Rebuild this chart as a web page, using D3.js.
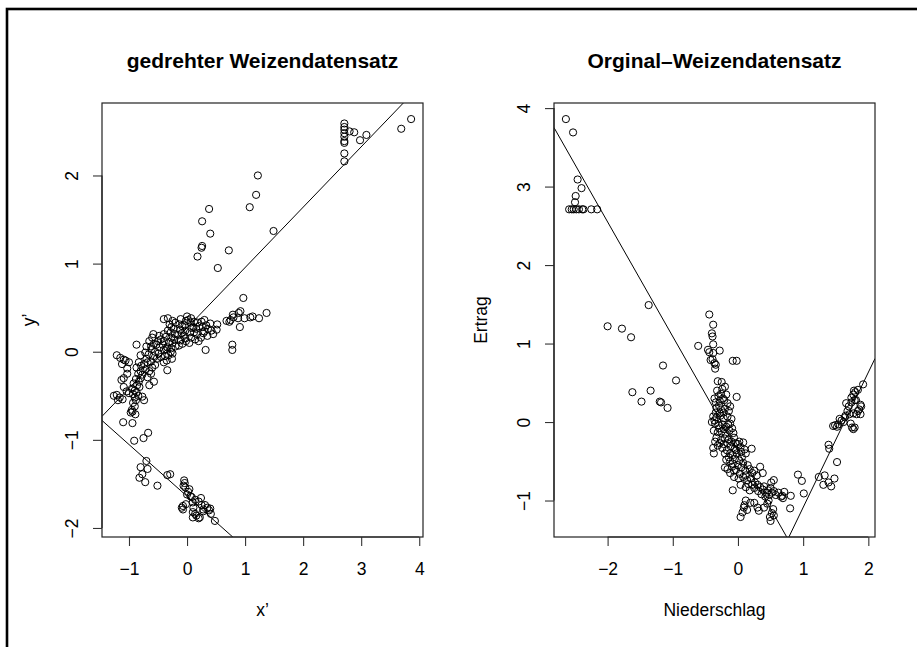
<!DOCTYPE html>
<html>
<head>
<meta charset="utf-8">
<script src="https://cdn.jsdelivr.net/npm/d3@7"></script>
<style>
  body { margin: 0; background: #fff; }
  svg { display: block; }
  text { font-family: "Liberation Sans", Arial, Helvetica, sans-serif; fill: #000; }
</style>
</head>
<body>
<svg id="chart" width="917" height="647"></svg>
<script>
// Wheat data set: precipitation (Niederschlag) vs. yield (Ertrag), standardised
const original = [
  [-2.64,3.86],[-2.53,3.69],[-2.46,3.09],[-2.40,2.98],[-2.49,2.88],[-2.50,2.80],[-2.59,2.71],[-2.55,2.71],
  [-2.52,2.71],[-2.48,2.71],[-2.44,2.71],[-2.39,2.71],[-2.37,2.71],[-2.25,2.71],[-2.16,2.71],
  [-2.00,1.22],[-1.78,1.19],[-1.64,1.08],[-1.37,1.49],[-1.15,0.72],[-0.95,0.53],[-1.62,0.38],[-1.34,0.40],
  [-1.48,0.26],[-1.20,0.26],[-1.18,0.25],[-1.08,0.18],[-0.61,0.97],
  [-0.44,1.37],[-0.38,1.24],[-0.40,1.13],[-0.39,1.09],[-0.38,0.99],[-0.46,0.92],[-0.28,0.91],[-0.38,0.88],
  [-0.44,0.89],[-0.39,0.80],[-0.42,0.79],[-0.36,0.75],[-0.34,0.73],[-0.35,0.68],[-0.08,0.78],[-0.02,0.78],
  [-0.31,0.52],[-0.25,0.51],[-0.20,0.45],[-0.02,0.32],[-0.34,0.25],[-0.28,0.27],[-0.21,0.28],[-0.16,0.24],
  [-0.30,0.33],[-0.26,0.36],[-0.23,0.30],[-0.33,0.18],[-0.26,0.16],[-0.20,0.17],[-0.12,0.20],[-0.29,0.21],
  [-0.38,0.07],[-0.33,0.06],[-0.27,0.08],[-0.22,0.05],[-0.16,0.07],[-0.10,0.04],[-0.40,0.00],[-0.35,-0.02],
  [-0.30,-0.04],[-0.24,-0.03],[-0.18,-0.06],[-0.12,-0.02],[-0.37,-0.11],[-0.31,-0.13],[-0.25,-0.12],[-0.19,-0.15],
  [-0.13,-0.11],[-0.07,-0.14],[-0.34,0.12],[-0.28,0.11],[-0.22,0.12],
  [-0.33,-0.20],[-0.26,-0.23],[-0.20,-0.21],[-0.14,-0.22],[-0.06,-0.20],[-0.38,-0.33],[-0.37,-0.40],[-0.31,-0.30],
  [-0.24,-0.33],[-0.17,-0.36],[-0.11,-0.31],[-0.05,-0.34],[0.00,-0.28],[0.04,-0.32],[0.10,-0.35],[0.21,-0.34],
  [-0.08,-0.42],[-0.02,-0.40],[0.06,-0.45],[0.02,-0.25],[0.08,-0.26],[-0.12,-0.40],
  [-0.18,-0.48],[-0.12,-0.50],[-0.05,-0.47],[0.02,-0.49],[-0.20,-0.58],[-0.16,-0.60],[-0.09,-0.57],[-0.03,-0.61],
  [0.05,-0.58],[0.11,-0.62],[0.18,-0.60],[0.34,-0.57],[0.38,-0.65],[0.15,-0.55],[-0.12,-0.65],[0.22,-0.65],
  [-0.06,-0.70],[0.01,-0.72],[0.08,-0.70],[0.14,-0.74],[0.20,-0.72],[0.26,-0.77],[0.04,-0.80],[0.12,-0.83],
  [0.18,-0.87],[0.25,-0.84],[0.31,-0.88],[0.38,-0.86],[0.44,-0.90],[0.50,-0.84],[0.55,-0.88],[0.42,-0.95],
  [0.48,-0.93],[0.62,-0.90],[0.66,-0.95],[-0.08,-0.87],[0.30,-0.80],[0.36,-0.92],[0.55,-0.74],[0.51,-0.77],
  [0.04,-1.21],[0.07,-1.15],[0.09,-1.09],[0.12,-1.00],[0.19,-1.03],[0.25,-1.03],[0.30,-1.09],[0.32,-1.13],
  [0.40,-1.09],[0.45,-1.04],[0.47,-1.00],[0.54,-1.11],[0.52,-1.16],[0.55,-1.19],[0.49,-1.21],[0.50,-1.26],
  [0.80,-1.10],[0.81,-0.94],[0.68,-0.94],[0.71,-0.89],[0.69,-0.97],[0.92,-0.67],[0.98,-0.75],[1.01,-0.91],
  [1.24,-0.70],[1.33,-0.68],[1.31,-0.80],[1.39,-0.77],[1.43,-0.82],[1.48,-0.72],[1.52,-0.51],[1.39,-0.29],
  [1.40,-0.34],[1.46,-0.05],[1.49,-0.04],[1.52,-0.06],[1.54,-0.03],[1.56,0.04],[1.59,0.02],[1.64,0.06],
  [1.66,0.24],[1.68,0.14],[1.71,0.10],[1.75,-0.07],[1.77,-0.09],[1.79,-0.07],[1.73,-0.02],[1.77,0.11],
  [1.82,0.10],[1.88,0.10],[1.89,0.20],[1.86,0.16],[1.74,0.31],[1.77,0.35],[1.80,0.38],[1.84,0.41],
  [1.74,0.25],[1.79,0.28],[1.92,0.48],[1.78,0.40],[1.65,0.08],[1.88,0.22],
  [-0.36,0.30],[-0.32,0.40],[-0.24,0.42],[-0.18,0.35],[-0.14,0.14],[-0.36,0.02],[-0.29,-0.08],[-0.21,-0.09],
  [-0.15,-0.03],[-0.09,-0.08],[-0.35,-0.25],[-0.28,-0.27],[-0.22,-0.28],[-0.16,-0.27],[-0.10,-0.25],[-0.04,-0.27],
  [-0.20,-0.40],[-0.14,-0.45],[-0.03,-0.36],[0.05,-0.38],[0.12,-0.40],[-0.08,-0.53],[0.00,-0.55],[0.08,-0.52],
  [-0.06,-0.62],[0.03,-0.66],[0.12,-0.68],[0.25,-0.62],[0.29,-0.68],[0.16,-0.79],[0.22,-0.80],[0.34,-0.83],
  [0.40,-0.82],[0.46,-0.87],[0.52,-0.90],[0.58,-0.93],[0.10,-1.06],[0.14,-1.12],[1.70,0.20],[1.62,0.00],
  [1.84,0.14],[1.81,0.28]
];

// The same observations turned by 90 degrees: x' = Ertrag, y' = -Niederschlag
const rotated = [
  [3.86,2.64],[3.69,2.53],[3.09,2.46],[2.98,2.40],[2.88,2.49],[2.80,2.50],[2.71,2.59],[2.71,2.55],
  [2.71,2.52],[2.71,2.48],[2.71,2.44],[2.71,2.39],[2.71,2.37],[2.71,2.25],[2.71,2.16],
  [1.22,2.00],[1.19,1.78],[1.08,1.64],[1.49,1.37],[0.72,1.15],[0.53,0.95],[0.38,1.62],[0.40,1.34],
  [0.26,1.48],[0.26,1.20],[0.25,1.18],[0.18,1.08],[0.97,0.61],
  [1.37,0.44],[1.24,0.38],[1.13,0.40],[1.09,0.39],[0.99,0.38],[0.92,0.46],[0.91,0.28],[0.88,0.38],
  [0.89,0.44],[0.80,0.39],[0.79,0.42],[0.75,0.36],[0.73,0.34],[0.68,0.35],[0.78,0.08],[0.78,0.02],
  [0.52,0.31],[0.51,0.25],[0.45,0.20],[0.32,0.02],[0.25,0.34],[0.27,0.28],[0.28,0.21],[0.24,0.16],
  [0.33,0.30],[0.36,0.26],[0.30,0.23],[0.18,0.33],[0.16,0.26],[0.17,0.20],[0.20,0.12],[0.21,0.29],
  [0.07,0.38],[0.06,0.33],[0.08,0.27],[0.05,0.22],[0.07,0.16],[0.04,0.10],[0.00,0.40],[-0.02,0.35],
  [-0.04,0.30],[-0.03,0.24],[-0.06,0.18],[-0.02,0.12],[-0.11,0.37],[-0.13,0.31],[-0.12,0.25],[-0.15,0.19],
  [-0.11,0.13],[-0.14,0.07],[0.12,0.34],[0.11,0.28],[0.12,0.22],
  [-0.20,0.33],[-0.23,0.26],[-0.21,0.20],[-0.22,0.14],[-0.20,0.06],[-0.33,0.38],[-0.40,0.37],[-0.30,0.31],
  [-0.33,0.24],[-0.36,0.17],[-0.31,0.11],[-0.34,0.05],[-0.28,0.00],[-0.32,-0.04],[-0.35,-0.10],[-0.34,-0.21],
  [-0.42,0.08],[-0.40,0.02],[-0.45,-0.06],[-0.25,-0.02],[-0.26,-0.08],[-0.40,0.12],
  [-0.48,0.18],[-0.50,0.12],[-0.47,0.05],[-0.49,-0.02],[-0.58,0.20],[-0.60,0.16],[-0.57,0.09],[-0.61,0.03],
  [-0.58,-0.05],[-0.62,-0.11],[-0.60,-0.18],[-0.57,-0.34],[-0.65,-0.38],[-0.55,-0.15],[-0.65,0.12],[-0.65,-0.22],
  [-0.70,0.06],[-0.72,-0.01],[-0.70,-0.08],[-0.74,-0.14],[-0.72,-0.20],[-0.77,-0.26],[-0.80,-0.04],[-0.83,-0.12],
  [-0.87,-0.18],[-0.84,-0.25],[-0.88,-0.31],[-0.86,-0.38],[-0.90,-0.44],[-0.84,-0.50],[-0.88,-0.55],[-0.95,-0.42],
  [-0.93,-0.48],[-0.90,-0.62],[-0.95,-0.66],[-0.87,0.08],[-0.80,-0.30],[-0.92,-0.36],[-0.74,-0.55],[-0.77,-0.51],
  [-1.21,-0.04],[-1.15,-0.07],[-1.09,-0.09],[-1.00,-0.12],[-1.03,-0.19],[-1.03,-0.25],[-1.09,-0.30],[-1.13,-0.32],
  [-1.09,-0.40],[-1.04,-0.45],[-1.00,-0.47],[-1.11,-0.54],[-1.16,-0.52],[-1.19,-0.55],[-1.21,-0.49],[-1.26,-0.50],
  [-1.10,-0.80],[-0.94,-0.81],[-0.94,-0.68],[-0.89,-0.71],[-0.97,-0.69],[-0.67,-0.92],[-0.75,-0.98],[-0.91,-1.01],
  [-0.70,-1.24],[-0.68,-1.33],[-0.80,-1.31],[-0.77,-1.39],[-0.82,-1.43],[-0.72,-1.48],[-0.51,-1.52],[-0.29,-1.39],
  [-0.34,-1.40],[-0.05,-1.46],[-0.04,-1.49],[-0.06,-1.52],[-0.03,-1.54],[0.04,-1.56],[0.02,-1.59],[0.06,-1.64],
  [0.24,-1.66],[0.14,-1.68],[0.10,-1.71],[-0.07,-1.75],[-0.09,-1.77],[-0.07,-1.79],[-0.02,-1.73],[0.11,-1.77],
  [0.10,-1.82],[0.10,-1.88],[0.20,-1.89],[0.16,-1.86],[0.31,-1.74],[0.35,-1.77],[0.38,-1.80],[0.41,-1.84],
  [0.25,-1.74],[0.28,-1.79],[0.48,-1.92],[0.40,-1.78],[0.08,-1.65],[0.22,-1.88],
  [0.30,0.36],[0.40,0.32],[0.42,0.24],[0.35,0.18],[0.14,0.14],[0.02,0.36],[-0.08,0.29],[-0.09,0.21],
  [-0.03,0.15],[-0.08,0.09],[-0.25,0.35],[-0.27,0.28],[-0.28,0.22],[-0.27,0.16],[-0.25,0.10],[-0.27,0.04],
  [-0.40,0.20],[-0.45,0.14],[-0.36,0.03],[-0.38,-0.05],[-0.40,-0.12],[-0.53,0.08],[-0.55,0.00],[-0.52,-0.08],
  [-0.62,0.06],[-0.66,-0.03],[-0.68,-0.12],[-0.62,-0.25],[-0.68,-0.29],[-0.79,-0.16],[-0.80,-0.22],[-0.83,-0.34],
  [-0.82,-0.40],[-0.87,-0.46],[-0.90,-0.52],[-0.93,-0.58],[-1.06,-0.10],[-1.12,-0.14],[0.20,-1.70],[0.00,-1.62],
  [0.14,-1.84],[0.28,-1.81]
];

// Straight lines (intercept a, slope b) drawn across each panel
const rotatedLines = [{ a: 0.27, b: 0.685 }, { a: -1.64, b: -0.587 }];
const originalLines = [{ a: -0.372, b: -1.461 }, { a: -2.809, b: 1.721 }];

// Tick values
const rotatedXTicks = [-1, 0, 1, 2, 3, 4];
const rotatedYTicks = [-2, -1, 0, 1, 2];
const originalXTicks = [-2, -1, 0, 1, 2];
const originalYTicks = [-1, 0, 1, 2, 3, 4];

// Texts
const titles = ["gedrehter Weizendatensatz", "Orginal\u2013Weizendatensatz"];
const xTitles = ["x\u2019", "Niederschlag"];
const yTitles = ["y\u2019", "Ertrag"];

const svg = d3.select("#chart");
const FONT = 17.5;
const TOP = 103, BOTTOM = 537;

// Outer frame (its right and bottom edges lie outside the page)
svg.append("rect")
  .attr("x", 7).attr("y", 9).attr("width", 1200).attr("height", 1200)
  .attr("fill", "none").attr("stroke", "#000").attr("stroke-width", 2.6);

// Range padded by 4% on both sides, as in a classic base-graphics plot
function padded(values) {
  const [lo, hi] = d3.extent(values);
  const d = (hi - lo) * 0.04;
  return [lo - d, hi + d];
}

const fmt = v => (v < 0 ? "\u2212" : "") + Math.abs(v);

function panel(opts) {
  const { data, lines, xTicks, yTicks, title, xTitle, yTitle, left, right, id } = opts;
  const x = d3.scaleLinear().domain(padded(data.map(d => d[0]))).range([left, right]);
  const y = d3.scaleLinear().domain(padded(data.map(d => d[1]))).range([BOTTOM, TOP]);
  const g = svg.append("g");

  g.append("clipPath").attr("id", id)
    .append("rect").attr("x", left).attr("y", TOP)
    .attr("width", right - left).attr("height", BOTTOM - TOP);

  // fitted lines
  const [x0, x1] = x.domain();
  g.append("g").attr("clip-path", `url(#${id})`)
    .selectAll("line").data(lines).join("line")
    .attr("x1", x(x0)).attr("y1", d => y(d.a + d.b * x0))
    .attr("x2", x(x1)).attr("y2", d => y(d.a + d.b * x1))
    .attr("stroke", "#000").attr("stroke-width", 1);

  // observations
  g.append("g").selectAll("circle").data(data).join("circle")
    .attr("cx", d => x(d[0])).attr("cy", d => y(d[1])).attr("r", 3.6)
    .attr("fill", "none").attr("stroke", "#000").attr("stroke-width", 1);

  // plot box
  g.append("rect").attr("x", left).attr("y", TOP)
    .attr("width", right - left).attr("height", BOTTOM - TOP)
    .attr("fill", "none").attr("stroke", "#222").attr("stroke-width", 1.2);

  // bottom axis
  const ax = g.append("g").attr("transform", `translate(0,${BOTTOM})`)
    .call(d3.axisBottom(x).tickValues(xTicks).tickSize(9).tickFormat(fmt));
  ax.select(".domain").remove();
  ax.append("line").attr("x1", x(xTicks[0])).attr("x2", x(xTicks[xTicks.length - 1]))
    .attr("stroke", "#222").attr("stroke-width", 1.2);
  ax.selectAll(".tick line").attr("stroke", "#333").attr("stroke-width", 1.1);
  ax.selectAll(".tick text")
    .attr("y", 38).attr("dy", null)
    .attr("font-size", FONT).attr("font-family", null);

  // left axis, labels parallel to the axis
  const ay = g.append("g").attr("transform", `translate(${left},0)`)
    .call(d3.axisLeft(y).tickValues(yTicks).tickSize(9).tickFormat(fmt));
  ay.select(".domain").remove();
  ay.append("line").attr("y1", y(yTicks[0])).attr("y2", y(yTicks[yTicks.length - 1]))
    .attr("stroke", "#222").attr("stroke-width", 1.2);
  ay.selectAll(".tick line").attr("stroke", "#333").attr("stroke-width", 1.1);
  ay.selectAll(".tick text")
    .attr("x", null).attr("dy", null)
    .attr("text-anchor", "middle")
    .attr("transform", "translate(-24,0) rotate(-90)")
    .attr("font-size", FONT).attr("font-family", null);
  ax.attr("font-family", null).attr("font-size", null);
  ay.attr("font-family", null).attr("font-size", null);

  const cx = (left + right) / 2;
  g.append("text").attr("x", cx).attr("y", 68)
    .attr("text-anchor", "middle").attr("font-weight", "bold")
    .attr("font-size", 21).text(title);
  g.append("text").attr("x", cx).attr("y", 616)
    .attr("text-anchor", "middle").attr("font-size", FONT).text(xTitle);
  g.append("text")
    .attr("transform", `translate(${left - 67},${(TOP + BOTTOM) / 2}) rotate(-90)`)
    .attr("text-anchor", "middle").attr("font-size", FONT).text(yTitle);
}

panel({ id: "clipRot", data: rotated, lines: rotatedLines,
  xTicks: rotatedXTicks, yTicks: rotatedYTicks,
  title: titles[0], xTitle: xTitles[0], yTitle: yTitles[0], left: 102, right: 423 });

panel({ id: "clipOrig", data: original, lines: originalLines,
  xTicks: originalXTicks, yTicks: originalYTicks,
  title: titles[1], xTitle: xTitles[1], yTitle: yTitles[1], left: 554, right: 875 });
</script>
</body>
</html>
